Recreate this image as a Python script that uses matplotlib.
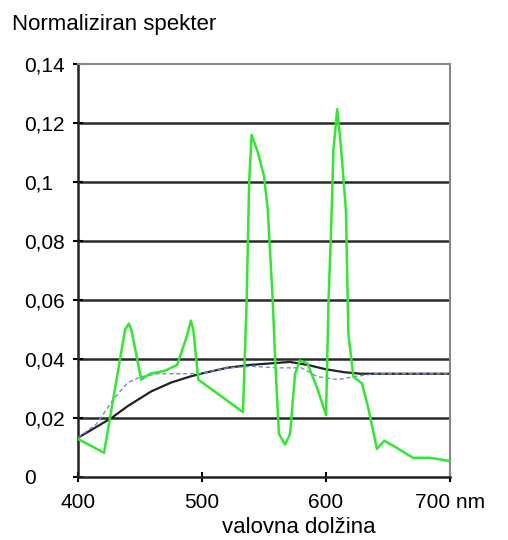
import matplotlib
matplotlib.use('Agg')
import matplotlib.pyplot as plt

plt.rcParams['font.family'] = ['Liberation Sans', 'DejaVu Sans']

# zelena krivulja (fluorescentna sijalka)
valG = [400, 421, 438, 441, 443, 451, 458, 470, 480, 488, 491, 493, 497, 533, 536, 538, 540, 545, 550, 553,
        557, 559, 562, 567, 571, 575, 579, 585, 593, 600, 602, 604, 606, 609, 612, 616, 618, 622, 629,
        634, 641, 647, 657, 670, 684, 700]
specG = [0.0129, 0.0082, 0.050, 0.052, 0.050, 0.033, 0.035, 0.036, 0.038, 0.048, 0.053, 0.050, 0.033, 0.022, 0.060, 0.100,
         0.116, 0.110, 0.102, 0.0906, 0.060, 0.0395, 0.0146, 0.011, 0.0146, 0.035, 0.0395, 0.0385,
         0.030, 0.021, 0.060, 0.083, 0.111, 0.1247, 0.112, 0.0906, 0.0487, 0.034, 0.0317, 0.0235,
         0.0095, 0.0123, 0.0099, 0.0065, 0.0065, 0.0054]

# crna krivulja
valK = [400, 415, 427, 440, 459, 475, 490, 499, 520, 539, 555, 571, 585, 600, 615, 628, 660, 700]
specK = [0.0133, 0.017, 0.020, 0.024, 0.029, 0.032, 0.034, 0.035, 0.037, 0.038, 0.0385, 0.039, 0.038,
         0.0365, 0.0355, 0.035, 0.035, 0.035]

# modra krivulja
valB = [400, 415, 428, 440, 451, 465, 480, 499, 520, 540, 560, 580, 593, 610, 622, 640, 700]
specB = [0.0133, 0.018, 0.026, 0.032, 0.034, 0.035, 0.035, 0.035, 0.037, 0.0375, 0.037, 0.037, 0.034,
         0.033, 0.034, 0.035, 0.035]

yticks = [0, 0.02, 0.04, 0.06, 0.08, 0.1, 0.12, 0.14]
ylabels = ['0', '0,02', '0,04', '0,06', '0,08', '0,1', '0,12', '0,14']
xticks = [400, 500, 600, 700]
xlabels = ['400', '500', '600', '700 nm']

fig = plt.figure(figsize=(5.08, 5.4), dpi=100)
ax = fig.add_axes([0.1535, 0.1167, 0.7325, 0.7648])

for y in yticks[1:-1]:
    ax.axhline(y, color='#2a2a2a', lw=1.8, zorder=1)

ax.plot(valK, specK, color='#222222', lw=1.6, zorder=2)
ax.plot(valB, specB, color='#6a8fd8', lw=1.0, ls=(0, (3, 2)), zorder=3)
ax.plot(valG, specG, color='#2fe82f', lw=1.8, zorder=4)

ax.set_xlim(400, 700)
ax.set_ylim(0, 0.14)
ax.set_yticks(yticks)
ax.set_yticklabels(ylabels)
ax.set_xticks(xticks)
ax.set_xticklabels(xlabels)
ax.tick_params(direction='inout', length=7, width=1.5, labelsize=15)
ax.tick_params(axis='x', pad=8)
ax.tick_params(axis='y', pad=35)
for lab in ax.get_yticklabels():
    lab.set_horizontalalignment('left')

ax.spines['left'].set_color('#222222')
ax.spines['left'].set_linewidth(1.8)
ax.spines['bottom'].set_color('#222222')
ax.spines['bottom'].set_linewidth(1.8)
ax.spines['top'].set_color('#888888')
ax.spines['top'].set_linewidth(1.5)
ax.spines['right'].set_color('#888888')
ax.spines['right'].set_linewidth(1.5)

fig.text(0.024, 0.944, 'Normaliziran spekter', fontsize=16, va='baseline', ha='left')
ax.set_xlabel('valovna dolžina', fontsize=16, labelpad=4)
ax.xaxis.set_label_coords(0.594, -0.097)

plt.savefig('out.png', dpi=100)
